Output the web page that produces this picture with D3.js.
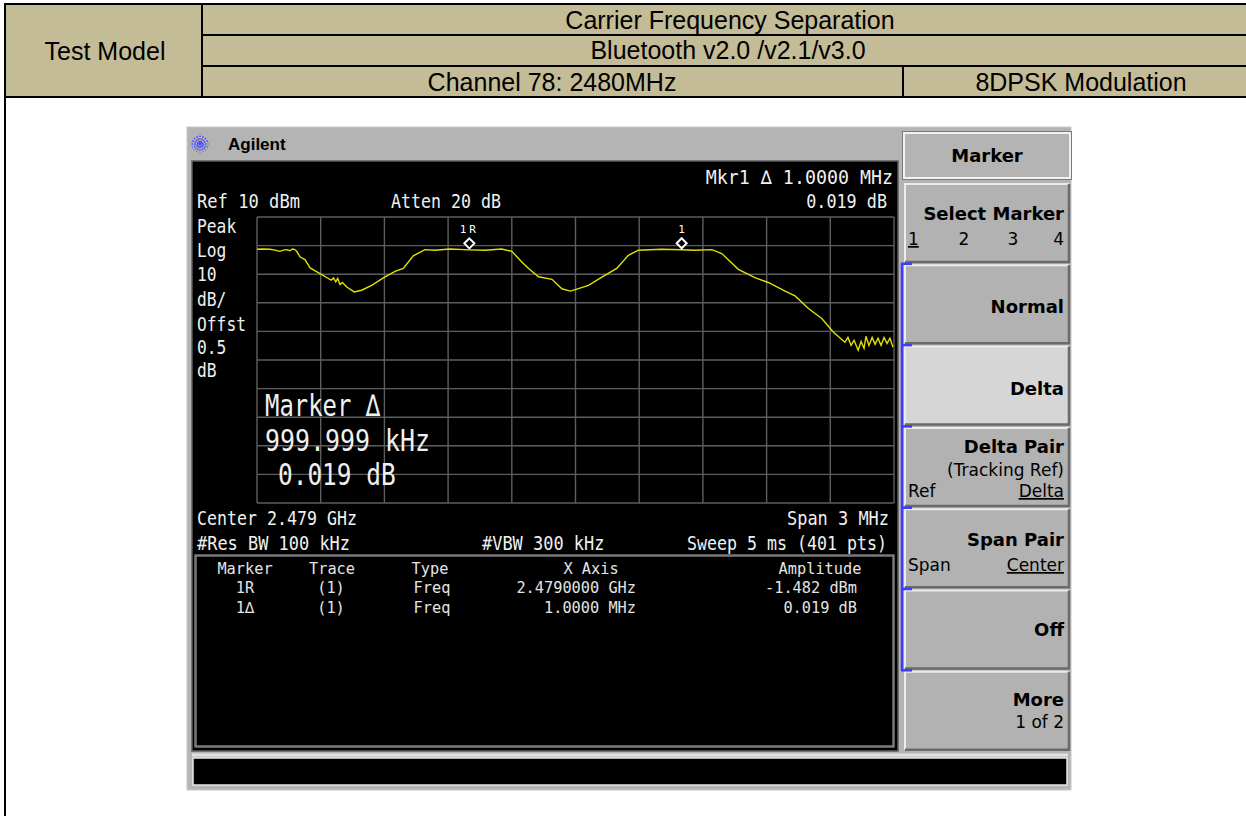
<!DOCTYPE html>
<html>
<head>
<meta charset="utf-8">
<script src="https://cdn.jsdelivr.net/npm/d3@7"></script>
<style>
  body { margin: 0; background: #fff; }
  svg { display: block; }
</style>
</head>
<body>
<script>
/*
------------------------------
DATA: header cells, trace, markers, table and softkeys
------------------------------
*/
const headerTitles = ["Carrier Frequency Separation", "Bluetooth v2.0 /v2.1/v3.0"];
const headerChannel = "Channel 78: 2480MHz";
const headerModulation = "8DPSK Modulation";
const headerLeft = "Test Model";

// trace: frequency (MHz) and level (dBm)
const traceFreqMHz = [
  2478.000, 2478.024, 2478.061, 2478.085, 2478.108, 2478.124, 2478.140, 2478.155, 2478.167, 2478.176,
  2478.187, 2478.203, 2478.226, 2478.250, 2478.297, 2478.336, 2478.349, 2478.360, 2478.371, 2478.380,
  2478.391, 2478.402, 2478.423, 2478.458, 2478.493, 2478.540, 2478.595, 2478.650, 2478.689, 2478.736,
  2478.791, 2478.838, 2478.909, 2479.000, 2479.074, 2479.152, 2479.200, 2479.247, 2479.279, 2479.326,
  2479.389, 2479.436, 2479.475, 2479.499, 2479.561, 2479.624, 2479.694, 2479.749, 2479.796, 2479.906,
  2480.000, 2480.063, 2480.142, 2480.189, 2480.267, 2480.345, 2480.408, 2480.487, 2480.534, 2480.597,
  2480.660, 2480.714, 2480.754, 2480.769, 2480.783, 2480.798, 2480.812, 2480.831, 2480.845, 2480.859,
  2480.868, 2480.882, 2480.897, 2480.911, 2480.925, 2480.939, 2480.953, 2480.967, 2480.981, 2480.995
];
const traceAmpDbm = [
  -1.3, -1.2, -1.3, -1.6, -2.0, -1.6, -1.4, -1.8, -1.2, -1.3,
  -2.0, -4.0, -4.9, -7.8, -9.8, -11.5, -12.1, -11.3, -12.7, -11.5,
  -13.6, -12.9, -14.5, -16.2, -15.6, -13.9, -11.3, -9.0, -8.0, -3.6,
  -1.4, -1.6, -1.2, -1.482, -1.6, -1.2, -2.0, -5.7, -8.0, -10.9,
  -11.8, -15.1, -15.9, -15.4, -13.9, -11.0, -8.0, -3.4, -1.6, -1.3,
  -1.463, -1.6, -1.4, -2.8, -8.3, -11.2, -12.9, -15.9, -17.6, -22.0,
  -25.5, -30.2, -32.8, -33.8, -32.1, -34.9, -33.1, -36.6, -33.5, -35.9,
  -31.7, -34.9, -32.1, -34.5, -32.4, -34.9, -32.1, -34.2, -32.4, -35.5
];

const markerLabels = ["1R", "1"];
const markerFreqMHz = [2479.0, 2480.0];
const markerAmpDbm = [-1.482, -1.463];

const freqGridMHz = [2478.0, 2478.3, 2478.6, 2478.9, 2479.2, 2479.5, 2479.8, 2480.1, 2480.4, 2480.7, 2481.0];
const ampGridDbm = [10, 0, -10, -20, -30, -40, -50, -60, -70, -80, -90];

const scaleLabels = ["Peak", "Log", "10", "dB/", "Offst", "0.5", "dB"];

const tableHeader = ["Marker", "Trace", "Type", "X Axis", "Amplitude"];
const tableRows = [
  ["1R", "(1)", "Freq", "2.4790000 GHz", "-1.482 dBm"],
  ["1\u2206", "(1)", "Freq", "1.0000 MHz", "0.019 dB"]
];

const softkeyTitles = ["Select Marker", "Normal", "Delta", "Delta Pair", "Span Pair", "Off", "More"];

/*
------------------------------
SETUP
------------------------------
*/
const W = 1246, H = 816;
const svg = d3.select("body").append("svg").attr("width", W).attr("height", H);

const MONO = "'DejaVu Sans Mono', monospace";
const SANS = "'DejaVu Sans', sans-serif";
const ARIAL = "'Liberation Sans', Arial, sans-serif";

// screen text: squeezed mono to look like the analyzer font
function mono(g, x, y, str, size, charW, anchor, fill) {
  const t = g.append("text")
    .attr("x", x).attr("y", y)
    .attr("font-family", MONO)
    .attr("font-size", size)
    .attr("fill", fill || "#f0f0f0")
    .attr("text-anchor", anchor || "start")
    .text(str);
  if (charW) t.attr("textLength", str.length * charW).attr("lengthAdjust", "spacingAndGlyphs");
  return t;
}

/*
------------------------------
HEADER TABLE
------------------------------
*/
const head = svg.append("g");
head.append("rect").attr("x", 5).attr("y", 4).attr("width", 1260).attr("height", 93)
  .attr("fill", "#C4BC96").attr("stroke", "#000").attr("stroke-width", 2);
head.append("line").attr("x1", 202).attr("x2", 202).attr("y1", 4).attr("y2", 97).attr("stroke", "#000").attr("stroke-width", 2);
[35, 66].forEach(y => head.append("line").attr("x1", 202).attr("x2", W).attr("y1", y).attr("y2", y)
  .attr("stroke", "#000").attr("stroke-width", 2));
head.append("line").attr("x1", 903).attr("x2", 903).attr("y1", 66).attr("y2", 97).attr("stroke", "#000").attr("stroke-width", 2);

function headText(x, y, str) {
  head.append("text").attr("x", x).attr("y", y).attr("text-anchor", "middle")
    .attr("font-family", ARIAL).attr("font-size", 25).attr("fill", "#000").text(str);
}
headText(105, 59.5, headerLeft);
headText(730, 28.5, headerTitles[0]);
headText(728, 59, headerTitles[1]);
headText(552, 90.5, headerChannel);
headText(1081, 90.5, headerModulation);

// cell border below header
svg.append("line").attr("x1", 5).attr("x2", 5).attr("y1", 97).attr("y2", H).attr("stroke", "#000").attr("stroke-width", 2);

/*
------------------------------
ANALYZER PANEL
------------------------------
*/
const panel = svg.append("g");
panel.append("rect").attr("x", 187).attr("y", 127).attr("width", 884).attr("height", 663)
  .attr("fill", "#b4b4b4").attr("stroke", "#c8c8c8");

// Agilent logo + name
const logo = panel.append("g").attr("transform", "translate(200,144)");
d3.range(0, 180, 22.5).forEach(a => {
  logo.append("line")
    .attr("x1", -8.5).attr("x2", 8.5).attr("y1", 0).attr("y2", 0)
    .attr("transform", "rotate(" + a + ")")
    .attr("stroke", "#4646ff").attr("stroke-width", 1.4).attr("stroke-dasharray", "1.6,1.1");
});
panel.append("text").attr("x", 228).attr("y", 150).attr("font-family", ARIAL).attr("font-weight", "bold")
  .attr("font-size", 17).attr("fill", "#000").text("Agilent");

// screen
panel.append("rect").attr("x", 192).attr("y", 161).attr("width", 706).attr("height", 590)
  .attr("fill", "#000").attr("stroke", "#5c5c5c").attr("stroke-width", 1.5);

// light separator and status bar
panel.append("line").attr("x1", 192).attr("x2", 1068).attr("y1", 755).attr("y2", 755)
  .attr("stroke", "#e2e2e2").attr("stroke-width", 3);
panel.append("rect").attr("x", 193).attr("y", 758).attr("width", 874).attr("height", 27)
  .attr("fill", "#000").attr("stroke", "#e6e6e6").attr("stroke-width", 1.5);

/*
------------------------------
GRID AND TRACE
------------------------------
*/
const x = d3.scaleLinear().domain([2478.0, 2481.0]).range([257, 894]);
const y = d3.scaleLinear().domain([10, -90]).range([217, 503]);

const grid = svg.append("g");
grid.selectAll(".vg").data(freqGridMHz).join("line")
  .attr("x1", d => x(d)).attr("x2", d => x(d)).attr("y1", y(10)).attr("y2", y(-90))
  .attr("stroke", "#5e5e5e").attr("stroke-width", 1.4);
grid.selectAll(".hg").data(ampGridDbm).join("line")
  .attr("x1", x(2478)).attr("x2", x(2481)).attr("y1", d => y(d)).attr("y2", d => y(d))
  .attr("stroke", "#5e5e5e").attr("stroke-width", 1.4);

const traceData = traceFreqMHz.map((f, i) => ({ f: f, a: traceAmpDbm[i] }));
svg.append("path")
  .datum(traceData)
  .attr("d", d3.line().x(d => x(d.f)).y(d => y(d.a)))
  .attr("fill", "none").attr("stroke", "#e0e000").attr("stroke-width", 1.4);

// markers
markerLabels.forEach((lab, i) => {
  const cx = x(markerFreqMHz[i]), cy = y(markerAmpDbm[i]) - 6.5;
  svg.append("path")
    .attr("d", "M" + cx + "," + (cy - 5) + "L" + (cx + 5) + "," + cy + "L" + cx + "," + (cy + 5) + "L" + (cx - 5) + "," + cy + "Z")
    .attr("fill", "#000").attr("stroke", "#fff").attr("stroke-width", 2);
  svg.append("text").attr("x", cx).attr("y", cy - 10).attr("text-anchor", "middle")
    .attr("font-family", MONO).attr("font-size", 11).attr("letter-spacing", lab.length > 1 ? 3 : 0)
    .attr("fill", "#fff").text(lab);
});

/*
------------------------------
SCREEN ANNOTATIONS
------------------------------
*/
const ann = svg.append("g");
mono(ann, 893, 184, "Mkr1 \u2206  1.0000 MHz", 19.5, 10.4, "end");
mono(ann, 887, 208, "0.019 dB", 19.5, 10.1, "end");
mono(ann, 197, 208, "Ref 10 dBm", 19.5, 10.3);
mono(ann, 391, 208, "Atten 20 dB", 19.5, 10.0);

const labelY = [233, 257, 281, 306, 331, 354, 377];
scaleLabels.forEach((s, i) => mono(ann, 197, labelY[i], s, 19.5, 9.8));

mono(ann, 265, 416, "Marker \u2206", 31, 14.4);
mono(ann, 265, 451, "999.999 kHz", 31, 15.0);
mono(ann, 278, 485, "0.019 dB", 31, 14.7);

mono(ann, 197, 525, "Center 2.479 GHz", 19.5, 10.0);
mono(ann, 889, 525, "Span 3 MHz", 19.5, 10.2, "end");
mono(ann, 197, 550, "#Res BW 100 kHz", 19.5, 10.2);
mono(ann, 482, 550, "#VBW 300 kHz", 19.5, 10.2);
mono(ann, 887, 550, "Sweep 5 ms (401 pts)", 19.5, 10.0, "end");

/*
------------------------------
MARKER TABLE
------------------------------
*/
const tbl = svg.append("g");
tbl.append("rect").attr("x", 195.5).attr("y", 555.5).attr("width", 698).attr("height", 191)
  .attr("fill", "none").attr("stroke", "#7a7a7a").attr("stroke-width", 2.5);

const headPos = [[245, "middle"], [332, "middle"], [430, "middle"], [591, "middle"], [820, "middle"]];
const cellPos = [[245, "middle"], [331, "middle"], [432, "middle"], [636, "end"], [857, "end"]];
tableHeader.forEach((h, i) => mono(tbl, headPos[i][0], 574, h, 16, 9.2, headPos[i][1], "#e4e4e4"));
tableRows.forEach((row, r) => {
  row.forEach((c, i) => mono(tbl, cellPos[i][0], 593 + r * 19.5, c, 16, 9.2, cellPos[i][1], "#e4e4e4"));
});

/*
------------------------------
SOFTKEYS
------------------------------
*/
const keys = svg.append("g");
const keyX = 905, keyW = 164, keyH = 78, keyTop = 184, keyPitch = 81.3;

// title box
keys.append("rect").attr("x", 904).attr("y", 133).attr("width", 166).attr("height", 45)
  .attr("fill", "#b4b4b4").attr("stroke", "#f2f2f2").attr("stroke-width", 2);
keys.append("rect").attr("x", 902.5).attr("y", 131.5).attr("width", 169).attr("height", 48)
  .attr("fill", "none").attr("stroke", "#7a7a7a").attr("stroke-width", 1);
keys.append("text").attr("x", 987).attr("y", 162).attr("text-anchor", "middle")
  .attr("font-family", SANS).attr("font-weight", "bold").attr("font-size", 18).attr("fill", "#000").text("Marker");

softkeyTitles.forEach((t, i) => {
  const ky = keyTop + i * keyPitch;
  const g = keys.append("g");
  g.append("rect").attr("x", keyX).attr("y", ky).attr("width", keyW).attr("height", keyH)
    .attr("fill", t === "Delta" ? "#d6d6d6" : "#b2b2b2");
  g.append("path").attr("d", "M" + keyX + "," + (ky + keyH) + "V" + ky + "H" + (keyX + keyW))
    .attr("fill", "none").attr("stroke", "#ececec").attr("stroke-width", 2);
  g.append("path").attr("d", "M" + keyX + "," + (ky + keyH) + "H" + (keyX + keyW) + "V" + ky)
    .attr("fill", "none").attr("stroke", "#6a6a6a").attr("stroke-width", 2.5);
});

function keyText(xp, yp, str, bold, anchor, underline) {
  const t = keys.append("text").attr("x", xp).attr("y", yp)
    .attr("font-family", SANS).attr("font-weight", bold ? "bold" : "normal")
    .attr("font-size", bold ? 18 : 17).attr("fill", "#000")
    .attr("text-anchor", anchor || "end").text(str);
  if (underline) t.attr("text-decoration", "underline");
}

keyText(1064, 220, "Select Marker", true);
keyText(908, 245, "1", false, "start", true);
keyText(964, 245, "2", false, "middle");
keyText(1013, 245, "3", false, "middle");
keyText(1064, 245, "4", false, "end");
keyText(1064, 313, "Normal", true);
keyText(1064, 395, "Delta", true);
keyText(1064, 453, "Delta Pair", true);
keyText(1064, 476, "(Tracking Ref)", false);
keyText(908, 497, "Ref", false, "start");
keyText(1064, 497, "Delta", false, "end", true);
keyText(1064, 546, "Span Pair", true);
keyText(908, 571, "Span", false, "start");
keyText(1064, 571, "Center", false, "end", true);
keyText(1064, 636, "Off", true);
keyText(1064, 706, "More", true);
keyText(1064, 728, "1 of 2", false);

// blue bracket beside the marker mode keys
const bracketTop = keyTop + keyPitch - 2, bracketBot = keyTop + 6 * keyPitch - 1;
keys.append("line").attr("x1", 902).attr("x2", 902).attr("y1", bracketTop).attr("y2", bracketBot)
  .attr("stroke", "#3c3cff").attr("stroke-width", 2.5);
d3.range(1, 7).forEach(i => {
  const yy = Math.min(keyTop + i * keyPitch - 1.5, bracketBot);
  keys.append("line").attr("x1", 901).attr("x2", 912).attr("y1", yy).attr("y2", yy)
    .attr("stroke", "#3c3cff").attr("stroke-width", 2.5);
});
</script>
</body>
</html>
